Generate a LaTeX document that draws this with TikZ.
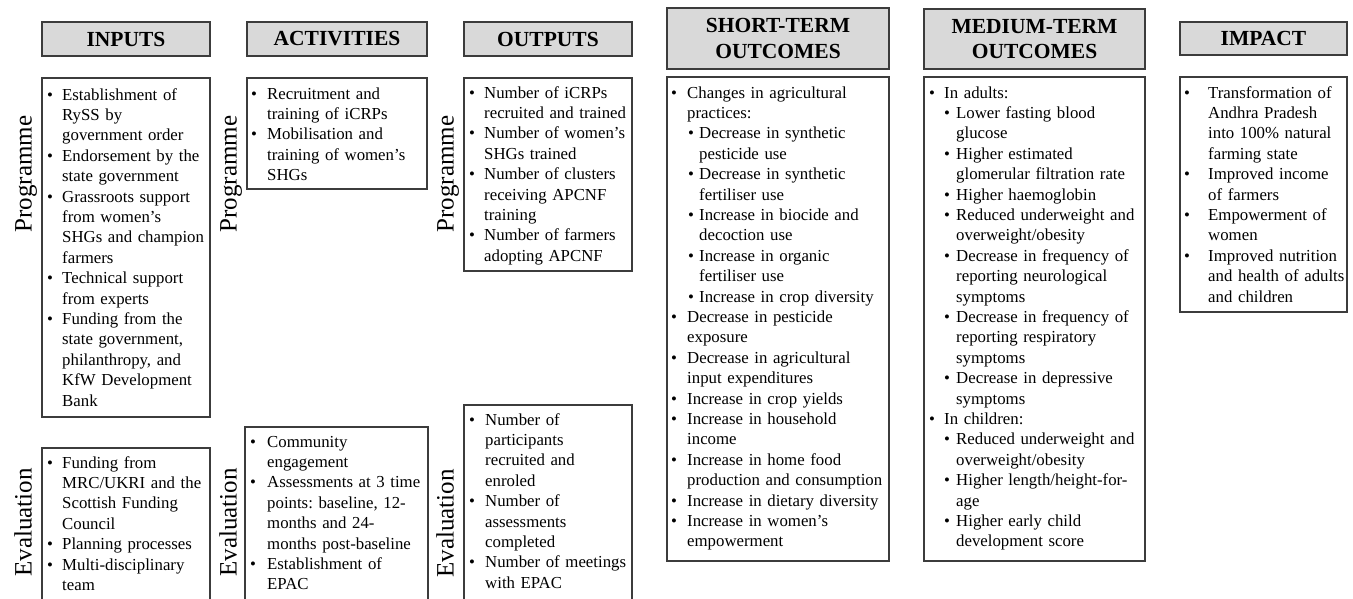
\documentclass[tikz,border=0pt]{standalone}
\usepackage{fontspec}
\setmainfont{Liberation Serif}
\frenchspacing
\definecolor{bordc}{HTML}{3C3C3C}
\definecolor{hdrfill}{HTML}{D9D9D9}
\newcommand\bulo{5}
\newcommand\txto{20}
\newcommand\subb{20}
\newcommand\subt{32}
\newcommand\bi{\strut\makebox[\txto pt][l]{\hspace*{\bulo pt}\textbullet}}
\newcommand\ci{\strut\hspace*{\txto pt}}
\newcommand\si{\strut\makebox[\subt pt][l]{\hspace*{\subb pt}\textbullet}}
\newcommand\sci{\strut\hspace*{\subt pt}}
\tikzset{
  hdr/.style={draw=bordc, line width=1.3pt, fill=hdrfill, inner sep=0pt, align=center,
    font=\fontsize{21.5}{25.5}\selectfont\bfseries},
  boxst/.style={draw=bordc, line width=1.3pt},
  body/.style={anchor=north west, inner sep=0pt, text width=250pt, align=left,
    font=\fontsize{16.8}{20.4}\selectfont\frenchspacing},
  side/.style={rotate=90, anchor=base, inner sep=0pt, font=\fontsize{25}{30}\selectfont}
}
\begin{document}
\begin{tikzpicture}[x=1pt,y=-1pt]
\useasboundingbox (0,0) rectangle (1353,598);
\clip (0,0) rectangle (1353,598);
\fill[white] (0,0) rectangle (1353,598);

% headers
\node[hdr, minimum width=168pt, minimum height=34pt] (hin) at (126,39) {INPUTS};
\node[hdr, minimum width=180pt, minimum height=34pt] (hact) at (337,39) {ACTIVITIES};
\node[hdr, minimum width=168pt, minimum height=34pt] (hout) at (548,39) {OUTPUTS};
\node[hdr, minimum width=222pt, minimum height=61pt] (hst) at (778,38.5) {SHORT-TERM\\OUTCOMES};
\node[hdr, minimum width=221pt, minimum height=60pt] (hmt) at (1034.5,39) {MEDIUM-TERM\\OUTCOMES};
\node[hdr, minimum width=167pt, minimum height=33pt] (himp) at (1263.5,38.5) {IMPACT};

% boxes
\draw[boxst] (42,78) rectangle (210,417);
\draw[boxst] (247,78) rectangle (427,189);
\draw[boxst] (464,78) rectangle (632,271);
\draw[boxst] (667,77) rectangle (889,561);
\draw[boxst] (924,77) rectangle (1145,561);
\draw[boxst] (1180,77) rectangle (1347,312);
\draw[boxst] (42,448) rectangle (210,620);
\draw[boxst] (245,427) rectangle (428,620);
\draw[boxst] (464,405) rectangle (632,620);

% side labels
\node[side] (pin) at (31.5,174) {Programme};
\node[side] (pact) at (236.5,174) {Programme};
\node[side] (pout) at (453.5,174) {Programme};
\node[side] (ein) at (31.5,522.5) {Evaluation};
\node[side] (eact) at (236.5,522.5) {Evaluation};
\node[side] (eout) at (453.5,523.5) {Evaluation};

% inputs programme
\node[body] (tin) at (42,85.7) {\def\bulo{5}\def\txto{20}%
\bi Establishment of\\
\ci RySS by\\
\ci government order\\
\bi Endorsement by the\\
\ci state government\\
\bi Grassroots support\\
\ci from women’s\\
\ci SHGs and champion\\
\ci farmers\\
\bi Technical support\\
\ci from experts\\
\bi Funding from the\\
\ci state government,\\
\ci philanthropy, and\\
\ci KfW Development\\
\ci Bank};

% activities programme
\node[body] (tact) at (247,84.7) {\def\bulo{4}\def\txto{20}%
\bi Recruitment and\\
\ci training of iCRPs\\
\bi Mobilisation and\\
\ci training of women’s\\
\ci SHGs};

% outputs programme
\node[body] (tout) at (464,83.7) {\def\bulo{5}\def\txto{20}%
\bi Number of iCRPs\\
\ci recruited and trained\\
\bi Number of women’s\\
\ci SHGs trained\\
\bi Number of clusters\\
\ci receiving APCNF\\
\ci training\\
\bi Number of farmers\\
\ci adopting APCNF};

% short-term outcomes
\node[body] (tst) at (667,83.7) {\def\bulo{4}\def\txto{20}\def\subb{21}\def\subt{32}%
\bi Changes in agricultural\\
\ci practices:\\
\si Decrease in synthetic\\
\sci pesticide use\\
\si Decrease in synthetic\\
\sci fertiliser use\\
\si Increase in biocide and\\
\sci decoction use\\
\si Increase in organic\\
\sci fertiliser use\\
\si Increase in crop diversity\\
\bi Decrease in pesticide\\
\ci exposure\\
\bi Decrease in agricultural\\
\ci input expenditures\\
\bi Increase in crop yields\\
\bi Increase in household\\
\ci income\\
\bi Increase in home food\\
\ci production and consumption\\
\bi Increase in dietary diversity\\
\bi Increase in women’s\\
\ci empowerment};

% medium-term outcomes
\node[body] (tmt) at (924,83.7) {\def\bulo{5}\def\txto{20}\def\subb{20}\def\subt{32}%
\bi In adults:\\
\si Lower fasting blood\\
\sci glucose\\
\si Higher estimated\\
\sci glomerular filtration rate\\
\si Higher haemoglobin\\
\si Reduced underweight and\\
\sci overweight/obesity\\
\si Decrease in frequency of\\
\sci reporting neurological\\
\sci symptoms\\
\si Decrease in frequency of\\
\sci reporting respiratory\\
\sci symptoms\\
\si Decrease in depressive\\
\sci symptoms\\
\bi In children:\\
\si Reduced underweight and\\
\sci overweight/obesity\\
\si Higher length/height-for-\\
\sci age\\
\si Higher early child\\
\sci development score};

% impact
\node[body] (timp) at (1180,83.7) {\def\bulo{4}\def\txto{28}%
\bi Transformation of\\
\ci Andhra Pradesh\\
\ci into 100\% natural\\
\ci farming state\\
\bi Improved income\\
\ci of farmers\\
\bi Empowerment of\\
\ci women\\
\bi Improved nutrition\\
\ci and health of adults\\
\ci and children};

% inputs evaluation
\node[body] (tein) at (42,453.7) {\def\bulo{5}\def\txto{20}%
\bi Funding from\\
\ci MRC/UKRI and the\\
\ci Scottish Funding\\
\ci Council\\
\bi Planning processes\\
\bi Multi-disciplinary\\
\ci team};

% activities evaluation
\node[body] (teact) at (245,432.7) {\def\bulo{5}\def\txto{22}%
\bi Community\\
\ci engagement\\
\bi Assessments at 3 time\\
\ci points: baseline, 12-\\
\ci months and 24-\\
\ci months post-baseline\\
\bi Establishment of\\
\ci EPAC};

% outputs evaluation
\node[body] (teout) at (464,410.7) {\def\bulo{5}\def\txto{21}%
\bi Number of\\
\ci participants\\
\ci recruited and\\
\ci enroled\\
\bi Number of\\
\ci assessments\\
\ci completed\\
\bi Number of meetings\\
\ci with EPAC};
\end{tikzpicture}
\end{document}
